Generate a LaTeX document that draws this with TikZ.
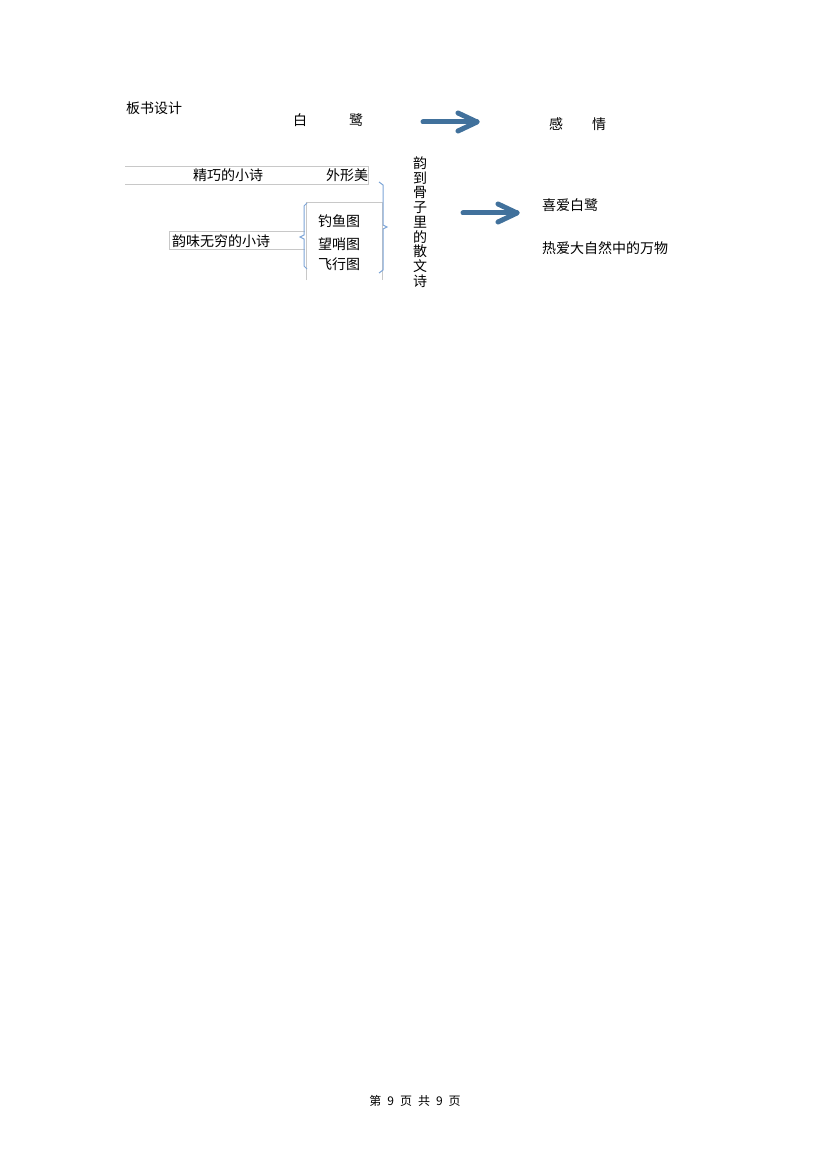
\documentclass[tikz,border=0pt]{standalone}
\usepackage{fontspec}
\setmainfont{Noto Sans CJK SC}
\definecolor{arrowblue}{RGB}{65,113,156}
\definecolor{braceblue}{RGB}{125,165,215}
\definecolor{linegray}{RGB}{200,200,200}

\tikzset{
  txt/.style = {inner sep = 0pt, font = \fontsize{14}{17}\selectfont},
  boxline/.style = {draw = linegray, line width = 0.8pt},
  brace/.style = {draw = braceblue, line width = 1pt},
  bigarrow/.style = {draw = arrowblue, line width = 5pt, line cap = round, line join = round}
}

\begin{document}
\begin{tikzpicture}[x = 1pt, y = -1pt]
  \useasboundingbox (0,0) rectangle (830,1174);
  % top row
  \node (title)[txt] at (154,108) {板书设计};
  \node (bai)[txt] at (300,120) {白};
  \node (lu)[txt] at (356,120) {鹭};
  \node (gan)[txt] at (556,124) {感};
  \node (qing)[txt] at (599,124) {情};
  \coordinate (a1s) at (423,122);
  \coordinate (a1e) at (477,122);
  \draw [bigarrow] (a1s) -- (a1e);
  \draw [bigarrow] (a1e) ++(-19,-9) -- (a1e) -- ++(-19,9);
  % left part
  \draw [boxline] (125,166) -- (368,166) -- (368,184) -- (125,184);
  \node (jq)[txt] at (228,175) {精巧的小诗};
  \node (wxm)[txt] at (347,175) {外形美};
  \draw [boxline] (305,231) -- (169,231) -- (169,249) -- (305,249);
  \node (ywwq)[txt] at (221,241) {韵味无穷的小诗};
  \draw [boxline] (306,280) -- (306,202) -- (382,202) -- (382,280);
  \node (dyt)[txt] at (339,221) {钓鱼图};
  \node (wst)[txt] at (339,244) {望哨图};
  \node (fxt)[txt] at (339,264) {飞行图};
  \draw [brace] (307,203) -- (304,206) -- (304,235) -- (300,237) -- (304,239) -- (304,266) -- (307,269);
  \draw [brace] (379,182) -- (383,185) -- (383,225) -- (387,227) -- (383,229) -- (383,270) -- (379,273);
  \node (yun)[txt, align = center, font = \fontsize{14}{14.75}\selectfont] at (420,222) {韵\\到\\骨\\子\\里\\的\\散\\文\\诗};
  % right part
  \coordinate (a2s) at (463,213);
  \coordinate (a2e) at (517,213);
  \draw [bigarrow] (a2s) -- (a2e);
  \draw [bigarrow] (a2e) ++(-19,-9) -- (a2e) -- ++(-19,9);
  \node (xa)[txt, anchor = west] at (542,205) {喜爱白鹭};
  \node (ra)[txt, anchor = west] at (542,248) {热爱大自然中的万物};
  % footer
  \node (foot)[txt, font = \fontsize{12}{14}\selectfont] at (415,1101) {第\hspace{6pt}9\hspace{6pt}页\hspace{6pt}共\hspace{6pt}9\hspace{6pt}页};
\end{tikzpicture}
\end{document}
